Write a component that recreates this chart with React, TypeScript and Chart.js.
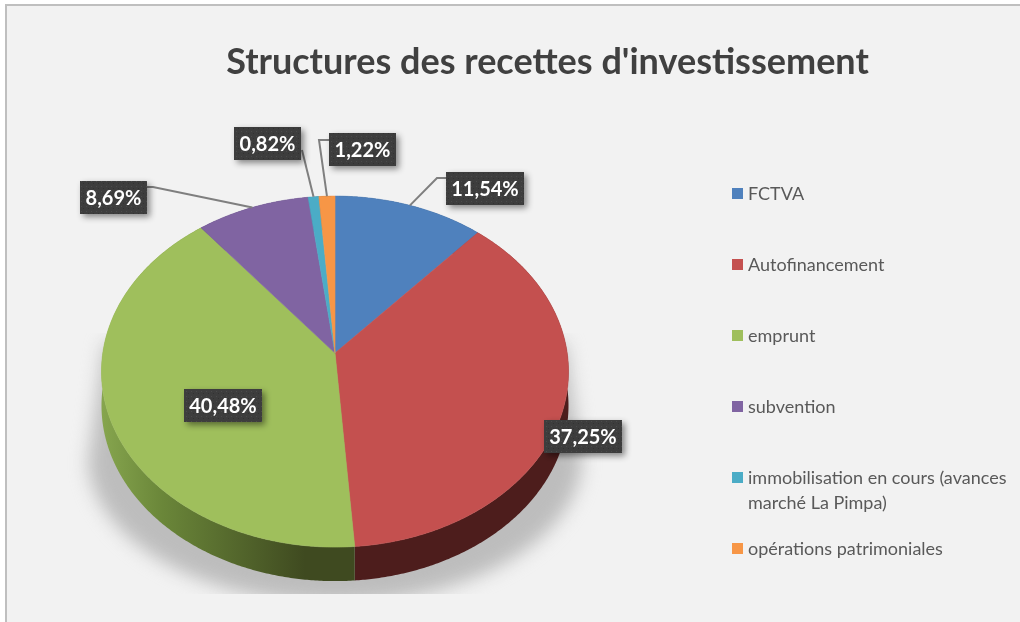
import React, { useEffect, useRef } from "react";
import { Chart, ArcElement, registerables } from "chart.js";

Chart.register(...registerables);

const TITLE = "Structures des recettes d'investissement";
const categories = [
  "FCTVA",
  "Autofinancement",
  "emprunt",
  "subvention",
  "immobilisation en cours (avances marché La Pimpa)",
  "opérations patrimoniales",
];
const values = [11.54, 37.25, 40.48, 8.69, 0.82, 1.22];
const colors = ["#4f81bd", "#c4504f", "#9fbf5c", "#8064a2", "#4bacc6", "#f79646"];
const sideColors = ["#27405e", "#4d1d1c", "#3f4a20", "#40325a", "#255663", "#7b4b23"];

// layout of the hand-placed data labels: [left, top, width]
const labelBoxes: [number, number, number][] = [
  [446, 172, 78],
  [544, 420, 78],
  [184, 389, 78],
  [80, 181, 67],
  [234, 127, 67],
  [329, 133, 67],
];
const BOX_H = 33;
// leader elbows, null when the label sits on the pie or has no leader
const leaderElbows: ([number, number][] | null)[] = [
  [[437, 178], [446, 178]],
  null,
  null,
  [[153, 187], [147, 187]],
  [[302, 150]],
  [[319, 140], [329, 140]],
];

const legendYs = [193, 264, 335, 406, 477, 548];

// perspective of the pie's top face, in pixels
const PX = 232.2;
const PY = 173.55;
const PC = -0.1054;
const DEPTH = 34;

type Pt = [number, number];
const project = (cx: number, cy: number, t: number): Pt => {
  const w = 1 + PC * Math.sin(t);
  return [cx + (PX * Math.cos(t)) / w, cy + (PY * Math.sin(t)) / w];
};
const sweep = (a: number, b: number): number[] => {
  const n = Math.max(2, Math.ceil((b - a) / 0.008));
  const out: number[] = [];
  for (let i = 0; i <= n; i++) out.push(a + ((b - a) * i) / n);
  return out;
};

// the library's arcs keep their own angles and centre, only their outline is tilted
ArcElement.prototype.draw = function (this: any, ctx: CanvasRenderingContext2D) {
  const { x, y, startAngle, endAngle } = this.getProps(["x", "y", "startAngle", "endAngle"]);
  ctx.save();
  ctx.beginPath();
  ctx.moveTo(x, y);
  for (const t of sweep(startAngle, endAngle)) {
    const [px, py] = project(x, y, t);
    ctx.lineTo(px, py);
  }
  ctx.closePath();
  ctx.fillStyle = this.options.backgroundColor;
  ctx.strokeStyle = this.options.backgroundColor;
  ctx.lineWidth = 0.6;
  ctx.fill();
  ctx.stroke();
  ctx.restore();
};

const framePlugin = {
  id: "frame",
  afterLayout(chart: any) {
    chart.titleBlock.left = 226;
    chart.titleBlock.right = 869;
  },
  beforeDraw(chart: any) {
    const { ctx, width, height } = chart;
    ctx.save();
    ctx.fillStyle = "#ffffff";
    ctx.fillRect(0, 0, width, height);
    ctx.fillStyle = "#f2f2f2";
    ctx.fillRect(5, 4, width - 5, height - 4);
    ctx.fillStyle = "#bfbfbf";
    ctx.fillRect(5, 4, width - 5, 2);
    ctx.fillRect(5, 4, 2, height - 4);
    ctx.restore();
  },
};

const bodyPlugin = {
  id: "pieBody",
  beforeDatasetsDraw(chart: any) {
    const { ctx } = chart;
    const arcs = chart.getDatasetMeta(0).data;
    const { x: cx, y: cy } = arcs[0];
    const bottom = project(cx, cy, Math.PI / 2)[1] + DEPTH;

    // soft cast shadow, cut off flat below the pie
    ctx.save();
    ctx.beginPath();
    ctx.rect(0, cy - 20, chart.width, bottom + 13 - (cy - 20));
    ctx.clip();
    ctx.filter = "blur(9px)";
    ctx.fillStyle = "#bdbdbd";
    ctx.beginPath();
    ctx.moveTo(cx - 230, cy - 10);
    ctx.lineTo(cx + 230, cy - 10);
    ctx.lineTo(cx + 247, cy + 110);
    ctx.bezierCurveTo(cx + 240, cy + 190, cx + 130, bottom + 22, cx, bottom + 22);
    ctx.bezierCurveTo(cx - 130, bottom + 22, cx - 240, cy + 190, cx - 247, cy + 110);
    ctx.closePath();
    ctx.fill();
    ctx.restore();

    // side wall of the extruded pie
    arcs.forEach((arc: any, i: number) => {
      const pts = sweep(arc.startAngle, arc.endAngle).map((t) => project(cx, cy, t));
      ctx.beginPath();
      pts.forEach(([a, b], j) => (j ? ctx.lineTo(a, b) : ctx.moveTo(a, b)));
      pts.reverse().forEach(([a, b]) => ctx.lineTo(a, b + DEPTH));
      ctx.closePath();
      if (i === 2) {
        const g = ctx.createLinearGradient(cx - 233, 0, cx - 30, 0);
        g.addColorStop(0, "#86a54e");
        g.addColorStop(0.3, "#6a8639");
        g.addColorStop(1, sideColors[i]);
        ctx.fillStyle = g;
      } else {
        ctx.fillStyle = sideColors[i];
      }
      ctx.fill();
    });
  },
  afterDatasetsDraw(chart: any) {
    const { ctx } = chart;
    const arcs = chart.getDatasetMeta(0).data;

    // leader lines start at the middle of each slice's rim
    ctx.save();
    ctx.strokeStyle = "#7f7f7f";
    ctx.lineWidth = 2;
    arcs.forEach((arc: any, i: number) => {
      const elbows = leaderElbows[i];
      if (!elbows) return;
      const [sx, sy] = project(arc.x, arc.y, (arc.startAngle + arc.endAngle) / 2);
      ctx.beginPath();
      ctx.moveTo(sx, sy);
      elbows.forEach(([a, b]) => ctx.lineTo(a, b));
      ctx.stroke();
    });
    ctx.restore();

    // dotted label boxes
    const tile = document.createElement("canvas");
    tile.width = 5;
    tile.height = 5;
    const t = tile.getContext("2d")!;
    t.fillStyle = "#3d3d3d";
    t.fillRect(0, 0, 5, 5);
    t.fillStyle = "#4c4c4c";
    t.fillRect(1, 1, 1, 1);
    t.fillStyle = "#323232";
    t.fillRect(3, 3, 1, 1);
    const pattern = ctx.createPattern(tile, "repeat")!;

    values.forEach((v, i) => {
      const [l, top, w] = labelBoxes[i];
      ctx.save();
      ctx.shadowColor = "rgba(0,0,0,0.45)";
      ctx.shadowBlur = 6;
      ctx.shadowOffsetX = 3;
      ctx.shadowOffsetY = 3;
      ctx.fillStyle = pattern;
      ctx.fillRect(l, top, w, BOX_H);
      ctx.restore();
      ctx.save();
      ctx.fillStyle = "#ffffff";
      ctx.font = "bold 20px Lato";
      ctx.textAlign = "center";
      ctx.textBaseline = "middle";
      ctx.fillText(v.toFixed(2).replace(".", ",") + "%", l + w / 2, top + BOX_H / 2 + 1);
      ctx.restore();
    });

    // legend, with its even pitch and wrapped entry
    ctx.save();
    ctx.font = "18px Lato";
    ctx.textBaseline = "middle";
    categories.forEach((name, i) => {
      const y = legendYs[i];
      ctx.fillStyle = colors[i];
      ctx.fillRect(732, y - 5, 11, 11);
      ctx.fillStyle = "#595959";
      const lines: string[] = [];
      let cur = "";
      for (const word of name.split(" ")) {
        const next = cur ? cur + " " + word : word;
        if (ctx.measureText(next).width > 270 && cur) {
          lines.push(cur);
          cur = word;
        } else cur = next;
      }
      lines.push(cur);
      lines.forEach((line, j) => ctx.fillText(line, 748, y + 1 + j * 25));
    });
    ctx.restore();
  },
};

export default function App() {
  const ref = useRef<HTMLCanvasElement>(null);
  useEffect(() => {
    document.body.style.margin = "0";
    const chart = new Chart(ref.current!, {
      type: "pie",
      data: {
        labels: categories,
        datasets: [{ data: values, backgroundColor: colors, borderWidth: 0, hoverOffset: 0 }],
      },
      options: {
        animation: false,
        responsive: false,
        events: [],
        layout: { padding: { left: 162, right: 512, top: 0, bottom: 96 } },
        plugins: {
          legend: { display: false },
          tooltip: { enabled: false },
          title: {
            display: true,
            text: TITLE,
            color: "#404040",
            font: { family: "Lato", size: 36, weight: "bold", lineHeight: 1.2 },
            padding: { top: 41, bottom: 96 },
          },
        },
      },
      plugins: [framePlugin, bodyPlugin],
    } as any);
    return () => chart.destroy();
  }, []);
  return <canvas ref={ref} width={1020} height={622} style={{ display: "block" }} />;
}
